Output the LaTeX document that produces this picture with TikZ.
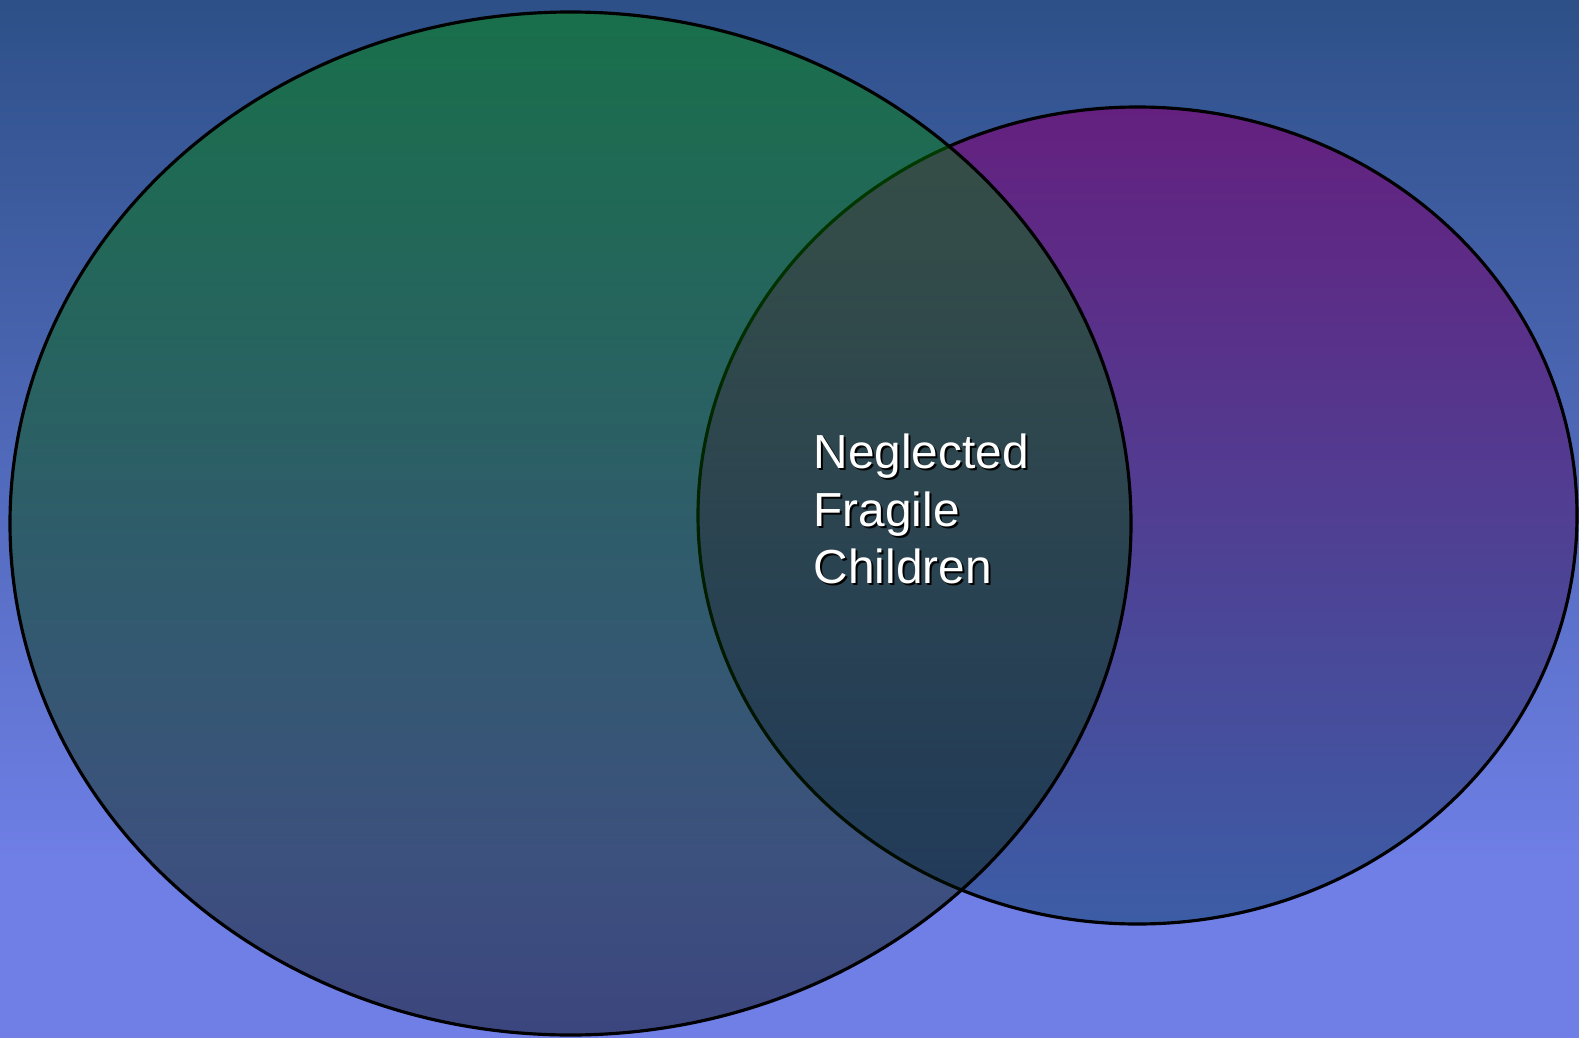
\documentclass[tikz,border=0pt]{standalone}
\usepackage{fontspec}
\setmainfont{Liberation Sans}
\usepackage{xcolor}
\usepackage{tikz}
\usetikzlibrary{positioning}

\definecolor{bgtop}{HTML}{2D5088}
\definecolor{bgbottom}{HTML}{6F7FE6}
\definecolor{purpletop}{HTML}{64207F}
\definecolor{purplemid}{HTML}{5C4B9E}
\definecolor{purplebottom}{HTML}{3C5DA6}
\definecolor{greentop}{RGB}{0,150,0}
\definecolor{greenmid}{RGB}{0,108,0}

\begin{document}
\begin{tikzpicture}[vennline/.style={draw=black,line width=0.9pt},
  lbltext/.style={inner sep=0pt,anchor=north west,align=left,font=\fontsize{13.6}{16.3}\selectfont}]
\useasboundingbox (0,0) rectangle (15.79,10.38);
\shade[top color=bgtop,bottom color=bgbottom] (0,1.75) rectangle (15.79,10.38);
\fill[bgbottom] (0,0) rectangle (15.79,1.8);
\shadedraw[vennline,top color=purpletop,middle color=purplemid,bottom color=purplebottom] (11.375,5.225) ellipse [x radius=4.395cm,y radius=4.085cm];
\shadedraw[vennline,top color=greentop,middle color=greenmid,bottom color=black,fill opacity=0.45] (5.705,5.145) ellipse [x radius=5.605cm,y radius=5.115cm];
\node[lbltext,text=black] (lblshadow) at (8.15,6.025) {Neglected\\Fragile\\Children};
\node[lbltext,text=white] (lbl) at ([xshift=-0.02cm,yshift=0.02cm]lblshadow.north west) {Neglected\\Fragile\\Children};
\end{tikzpicture}
\end{document}
